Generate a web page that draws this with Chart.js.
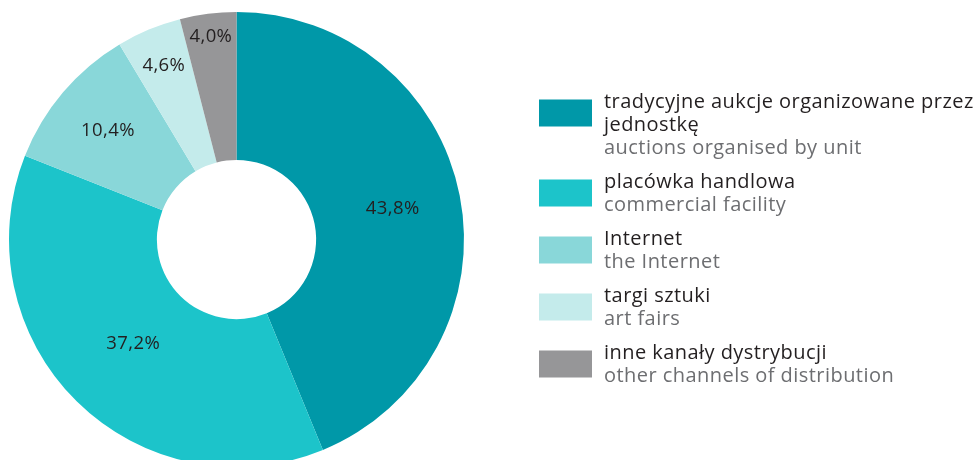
<!DOCTYPE html>
<html>
<head>
<meta charset="utf-8">
<script src="https://cdn.jsdelivr.net/npm/chart.js@4/dist/chart.umd.min.js"></script>
<style>
  html, body { margin: 0; padding: 0; background: #fff; overflow: hidden; }
  #wrap { width: 973px; height: 460px; overflow: hidden; position: relative; }
  canvas { display: block; }
</style>
</head>
<body>
<div id="wrap"><canvas id="c" width="973" height="480"></canvas></div>
<script>
// Distribution channels (share of sales, %)
const labelsPL = [
  ['tradycyjne aukcje organizowane przez', 'jednostkę'],
  ['placówka handlowa'],
  ['Internet'],
  ['targi sztuki'],
  ['inne kanały dystrybucji']
];
const labelsEN = [
  'auctions organised by unit',
  'commercial facility',
  'the Internet',
  'art fairs',
  'other channels of distribution'
];
const shares = [43.8, 37.2, 10.4, 4.6, 4.0];
const colors = ['#0098a8', '#1cc4ca', '#89d7d9', '#c4ebeb', '#969698'];

const FONT = '"Open Sans", "Noto Sans", sans-serif';

// Percentage labels placed along each slice's bisector
const valueLabels = {
  id: 'valueLabels',
  afterDatasetsDraw(chart, args, opts) {
    const { ctx } = chart;
    const meta = chart.getDatasetMeta(0);
    ctx.save();
    ctx.font = '18.5px ' + FONT;
    ctx.letterSpacing = '0.4px';
    ctx.fillStyle = '#231f20';
    ctx.textAlign = 'center';
    ctx.textBaseline = 'middle';
    meta.data.forEach((arc, i) => {
      const { x, y, startAngle, endAngle, outerRadius } = arc.getProps(['x', 'y', 'startAngle', 'endAngle', 'outerRadius'], true);
      const mid = (startAngle + endAngle) / 2;
      const r = outerRadius * opts.radius[i];
      const v = chart.data.datasets[0].data[i];
      ctx.fillText(v.toFixed(1).replace('.', ',') + '%', x + Math.cos(mid) * r, y + Math.sin(mid) * r);
    });
    ctx.restore();
  }
};

// Bilingual legend drawn to the right of the ring
const sideLegend = {
  id: 'sideLegend',
  afterDraw(chart, args, opts) {
    const { ctx } = chart;
    const bg = chart.data.datasets[0].backgroundColor;
    ctx.save();
    ctx.font = opts.fontSize + 'px ' + FONT;
    ctx.letterSpacing = '0.45px';
    ctx.textAlign = 'left';
    ctx.textBaseline = 'alphabetic';
    let base = opts.top;
    labelsPL.forEach((lines, i) => {
      ctx.fillStyle = bg[i];
      ctx.fillRect(opts.boxX, base - 8.5, opts.boxW, opts.boxH);
      ctx.fillStyle = '#231f20';
      lines.forEach((t, k) => ctx.fillText(t, opts.textX, base + k * opts.lineH));
      base += lines.length * opts.lineH;
      ctx.fillStyle = '#6d6e71';
      ctx.fillText(labelsEN[i], opts.textX, base);
      base += opts.lineH + opts.gap;
    });
    ctx.restore();
  }
};

new Chart(document.getElementById('c'), {
  type: 'doughnut',
  data: {
    labels: labelsPL.map(l => l.join(' ')),
    datasets: [{
      data: shares,
      backgroundColor: colors,
      borderWidth: 0,
      hoverOffset: 0
    }]
  },
  options: {
    responsive: false,
    animation: false,
    cutout: '35%',
    layout: { padding: { left: 9, top: 12, right: 509, bottom: 13 } },
    events: [],
    plugins: {
      legend: { display: false },
      tooltip: { enabled: false },
      valueLabels: { radius: [0.70, 0.646, 0.741, 0.828, 0.898] },
      sideLegend: {
        top: 108, lineH: 23, gap: 11, fontSize: 20,
        boxX: 539, boxW: 53, boxH: 27, textX: 604
      }
    }
  },
  plugins: [valueLabels, sideLegend]
});
</script>
</body>
</html>
